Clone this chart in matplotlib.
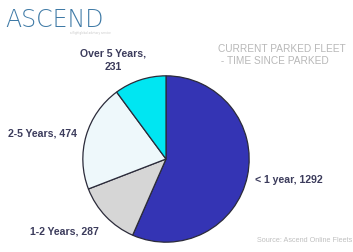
import matplotlib
matplotlib.use("Agg")
import matplotlib.pyplot as plt

# data
categories = ["< 1 year", "1-2 Years", "2-5 Years", "Over 5 Years"]
counts = [1292, 287, 474, 231]
colors = ["#3434b4", "#d6d6d6", "#eef8fb", "#00e6f2"]

W, H = 353, 252
fig = plt.figure(figsize=(W / 100, H / 100), dpi=100)
fig.patch.set_facecolor("white")

# pie axes: centre (166,159) px from top-left, radius ~84 px
cx, cy, r = 166, 159, 84
ax = fig.add_axes([(cx - r) / W, (H - cy - r) / H, 2 * r / W, 2 * r / H])
ax.pie(counts, colors=colors, startangle=90, counterclock=False,
       wedgeprops=dict(edgecolor="#2b2b3a", linewidth=0.9))
ax.set_xlim(-1.01, 1.01)
ax.set_ylim(-1.01, 1.01)
ax.set_aspect("equal")
ax.axis("off")

def px(x, y):
    return x / W, 1 - y / H

lab = dict(fontsize=7.6, fontweight="bold", color="#3c3c5c", family="Liberation Sans")

# slice labels
fig.text(*px(289, 180), f"{categories[0]}, {counts[0]}", ha="center", va="center", **lab)
fig.text(*px(64, 231), f"{categories[1]}, {counts[1]}", ha="center", va="center", **lab)
fig.text(*px(43, 133), f"{categories[2]}, {counts[2]}", ha="center", va="center", **lab)
fig.text(*px(113, 60), f"{categories[3]},\n{counts[3]}", ha="center", va="center",
         linespacing=1.45, **lab)

# title
fig.text(*px(218, 55), "CURRENT PARKED FLEET\n - TIME SINCE PARKED", ha="left", va="center",
         fontsize=7.3, color="#b8b8b8", family="Liberation Sans", linespacing=1.2)

# logo
fig.text(*px(5, 20), "ASCEND", ha="left", va="center", fontsize=17,
         color="#3f7aa6", family="DejaVu Sans", fontweight="light")
fig.text(*px(90, 33), "a flightglobal advisory service", ha="center", va="center",
         fontsize=2, color="#c8c8c8")

# source
fig.text(*px(352, 240), "Source: Ascend Online Fleets", ha="right", va="center",
         fontsize=5.2, color="#c0c0c0", family="Liberation Sans")

fig.savefig("out.png", dpi=100, facecolor="white")
